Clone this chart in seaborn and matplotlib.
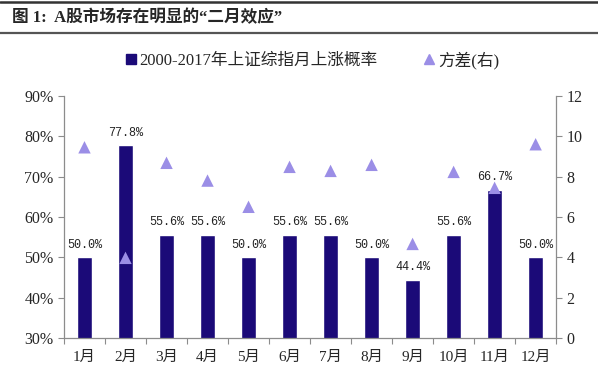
import matplotlib
matplotlib.use('Agg')
import matplotlib.pyplot as plt
import numpy as np
import pandas as pd
import seaborn as sns
from matplotlib.lines import Line2D

# Data
months = ['1月', '2月', '3月', '4月', '5月', '6月', '7月', '8月', '9月', '10月', '11月', '12月']
up_prob = [50.0, 77.8, 55.6, 55.6, 50.0, 55.6, 55.6, 50.0, 44.4, 55.6, 66.7, 50.0]
variance = [9.45, 3.97, 8.68, 7.8, 6.5, 8.48, 8.28, 8.58, 4.66, 8.23, 7.44, 9.6]

bar_name = '2000-2017年上证综指月上涨概率'
var_name = '方差(右)'
title = '图 1:  A股市场存在明显的“二月效应”'

bar_color = '#1b0a78'
tri_color = '#9b8ee6'
axis_color = '#8c8c8c'

df = pd.DataFrame({'month': months, 'prob': up_prob, 'var': variance})
df['pos'] = np.arange(len(df))

sns.set_style('white')
plt.rcParams['font.family'] = ['Liberation Serif', 'Noto Sans CJK SC', 'DejaVu Sans']

fig = plt.figure(figsize=(5.98, 3.88), dpi=100)
ax = fig.add_axes([0.107, 0.129, 0.823, 0.624])

sns.barplot(x='month', y='prob', data=df, color=bar_color, width=0.38,
            saturation=1, ax=ax)
ax.set_ylim(30, 90)
ax.set_yticks(range(30, 91, 10))
ax.set_yticklabels([f'{v}%' for v in range(30, 91, 10)])
ax.set_xlim(-0.5, len(months) - 0.5)
ax.set_xlabel('')
ax.set_ylabel('')

for i, v in enumerate(up_prob):
    ax.text(i, v + 1.6, f'{v:.1f}%', ha='center', va='bottom', fontsize=8.5,
            family=['Liberation Mono', 'DejaVu Sans'], color='#222222')

ax2 = ax.twinx()
sns.scatterplot(x='pos', y='var', data=df, marker='^', s=80, color=tri_color,
                edgecolor='none', ax=ax2, zorder=5)
ax2.set_ylim(0, 12)
ax2.set_yticks(range(0, 13, 2))
ax2.set_xlim(-0.5, len(months) - 0.5)
ax2.set_xlabel('')
ax2.set_ylabel('')

# x ticks sit between categories
ax.set_xticks(np.arange(len(months)))
ax.set_xticks(np.arange(-0.5, len(months), 1), minor=True)
ax.tick_params(axis='x', which='major', length=0, pad=9, labelsize=11)
ax.tick_params(axis='x', which='minor', direction='out', length=4,
               color=axis_color, width=0.8, bottom=True)
ax.tick_params(axis='y', direction='out', length=4, color=axis_color,
               width=0.8, labelsize=11.5, left=True)
ax2.tick_params(axis='y', direction='out', length=4, color=axis_color,
                width=0.8, labelsize=11.5, right=True)

for a in (ax, ax2):
    a.spines['top'].set_visible(False)
    for side in ('left', 'right', 'bottom'):
        a.spines[side].set_color(axis_color)
        a.spines[side].set_linewidth(0.9)
ax.spines['right'].set_visible(False)
ax2.spines['left'].set_visible(False)
ax2.spines['bottom'].set_visible(False)

# Legend
handles = [
    Line2D([], [], marker='s', linestyle='none', color=bar_color, markersize=6.5),
    Line2D([], [], marker='^', linestyle='none', color=tri_color, markersize=6.5),
]
fig.legend(handles, [bar_name, var_name], loc='center', bbox_to_anchor=(0.52, 0.845),
           ncol=2, frameon=False, handletextpad=0.05,
           columnspacing=2.6, handlelength=1.0,
           prop={'family': ['Liberation Serif', 'Noto Sans CJK SC'], 'size': 12})

# Title band
fig.text(0.02, 0.953, title, ha='left', va='center', fontsize=12,
         fontweight='bold', family=['Liberation Serif', 'Noto Sans CJK SC'])
fig.add_artist(Line2D([0, 1], [0.996, 0.996], color='#333333', linewidth=1.8,
                      transform=fig.transFigure))
fig.add_artist(Line2D([0, 1], [0.914, 0.914], color='#555555', linewidth=1.6,
                      transform=fig.transFigure))

fig.savefig('out.png', dpi=100)
